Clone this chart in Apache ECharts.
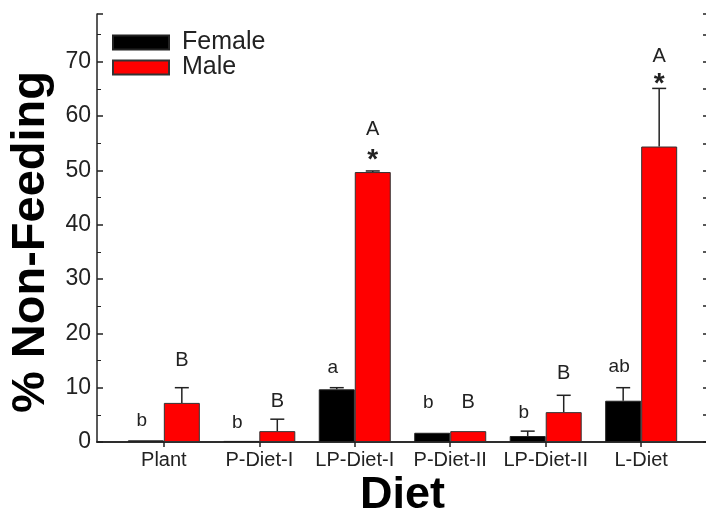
<!DOCTYPE html>
<html>
<head>
<meta charset="utf-8">
<script src="https://cdn.jsdelivr.net/npm/echarts@6/dist/echarts.min.js"></script>
<style>
  html, body { margin: 0; padding: 0; background: #fff; }
  #chart { width: 706px; height: 510px; }
</style>
</head>
<body>
<div id="chart"></div>
<script>
const categories = ['Plant', 'P-Diet-I', 'LP-Diet-I', 'P-Diet-II', 'LP-Diet-II', 'L-Diet']
const femaleMean = [0.3, 0.2, 9.7, 1.7, 1.1, 7.6]
const femaleErr = [0, 0, 0.3, 0, 0.9, 2.4]
const maleMean = [7.2, 2.0, 49.7, 2.0, 5.5, 54.4]
const maleErr = [2.8, 2.2, 0.2, 0, 3.1, 10.7]
const femaleLetters = ['b', 'b', 'a', 'b', 'b', 'ab']
const femaleLetterY = [3.9, 3.5, 13.6, 7.2, 5.3, 13.8]
const maleLetters = ['B', 'B', 'A', 'B', 'B', 'A']
const maleLetterY = [15.1, 7.4, 57.6, 7.2, 12.7, 70.9]
const maleStarY = [null, null, 53.2, null, null, 67.2]

const font = '"Liberation Sans", Arial, sans-serif'
const ink = '#222'
const barW = 36

const positions = categories.map((_, i) => i + 1)

const chart = echarts.init(document.getElementById('chart'))

const errorSeries = (name, means, errs, dx) => ({
  type: 'custom',
  name,
  silent: true,
  z: 5,
  data: positions.map((x, i) => [x, means[i], errs[i]]),
  renderItem: (params, api) => {
    const e = api.value(2)
    if (!e) return null
    const x = api.value(0)
    const m = api.value(1)
    const base = api.coord([x, m])
    const top = api.coord([x, m + e])
    const cx = base[0] + dx
    const style = { stroke: ink, lineWidth: 1.5 }
    return {
      type: 'group',
      children: [
        { type: 'line', shape: { x1: cx, y1: base[1], x2: cx, y2: top[1] }, style },
        { type: 'line', shape: { x1: cx - 7, y1: top[1], x2: cx + 7, y2: top[1] }, style }
      ]
    }
  }
})

const letterSeries = (name, ys, texts, dx, dy, size, weight) => ({
  type: 'custom',
  name,
  silent: true,
  z: 6,
  data: positions.map((x, i) => [x, ys[i], i]).filter((d) => d[1] != null),
  renderItem: (params, api) => {
    const p = api.coord([api.value(0), api.value(1)])
    return {
      type: 'text',
      x: p[0] + dx,
      y: p[1] + dy,
      style: {
        text: texts[api.value(2)],
        fontFamily: font,
        fontSize: size,
        fontWeight: weight,
        fill: ink,
        align: 'center',
        verticalAlign: 'middle'
      }
    }
  }
})

chart.setOption({
  animation: false,
  grid: { left: 97, right: -2, top: 14, bottom: 68, outerBoundsMode: 'none', containLabel: false },
  legend: {
    data: ['Female', 'Male'],
    orient: 'vertical',
    left: 112,
    top: 23,
    padding: 0,
    itemWidth: 56,
    itemHeight: 14,
    itemGap: -14,
    icon: 'rect',
    textStyle: { fontFamily: font, fontSize: 25, lineHeight: 25, color: ink, padding: [0, 0, 14, 8] }
  },
  xAxis: [
    {
      type: 'value',
      min: 0.3,
      max: 6.7,
      name: 'Diet',
      nameLocation: 'middle',
      nameGap: 31,
      nameMoveOverlap: false,
      nameTextStyle: { fontFamily: font, fontSize: 45, fontWeight: 'bold', color: '#000' },
      axisLine: { show: true, onZero: false, lineStyle: { color: ink, width: 1.5 } },
      axisTick: { show: true, customValues: positions, length: 5, lineStyle: { color: ink, width: 1.5 } },
      axisLabel: {
        customValues: positions,
        formatter: (v) => categories[Math.round(v) - 1],
        fontFamily: font,
        fontSize: 20,
        color: ink,
        margin: 8
      },
      splitLine: { show: false }
    },
    {
      type: 'value',
      position: 'top',
      min: 0.3,
      max: 6.7,
      axisLine: { show: true, lineStyle: { color: ink, width: 1.5 } },
      axisTick: { show: false },
      axisLabel: { show: false },
      splitLine: { show: false }
    }
  ],
  yAxis: [
    {
      type: 'value',
      min: 0,
      max: 78.8,
      interval: 10,
      name: '% Non-Feeding',
      nameLocation: 'middle',
      nameGap: 42,
      nameMoveOverlap: false,
      nameTextStyle: { fontFamily: font, fontSize: 47, fontWeight: 'bold', color: '#000', padding: [0, 28, 0, 0] },
      axisLine: { show: true, lineStyle: { color: ink, width: 1.5 } },
      axisTick: { show: true, inside: true, length: 6, lineStyle: { color: ink, width: 1.5 } },
      minorTick: { show: true, splitNumber: 2, length: 4, lineStyle: { color: ink, width: 1 } },
      axisLabel: {
        fontFamily: font,
        fontSize: 23,
        color: ink,
        margin: 6,
        formatter: (v) => (v % 10 === 0 ? String(v) : '')
      },
      splitLine: { show: false }
    },
    {
      type: 'value',
      position: 'right',
      min: 0,
      max: 78.8,
      interval: 5,
      axisLine: { show: true, lineStyle: { color: ink, width: 1.5 } },
      axisTick: { show: true, inside: true, length: 5, lineStyle: { color: ink, width: 1.5 } },
      axisLabel: { show: false },
      splitLine: { show: false }
    }
  ],
  series: [
    {
      name: 'Female',
      type: 'bar',
      barWidth: barW,
      barGap: '0%',
      data: positions.map((x, i) => [x, femaleMean[i]]),
      itemStyle: { color: '#000', borderColor: '#222', borderWidth: 1 }
    },
    {
      name: 'Male',
      type: 'bar',
      barWidth: barW,
      barGap: '0%',
      data: positions.map((x, i) => [x, maleMean[i]]),
      itemStyle: { color: '#ff0000', borderColor: '#333', borderWidth: 1 }
    },
    errorSeries('femaleErr', femaleMean, femaleErr, -barW / 2),
    errorSeries('maleErr', maleMean, maleErr, barW / 2),
    letterSeries('femaleLetters', femaleLetterY, femaleLetters, -barW / 2 - 4, 0, 19, 'normal'),
    letterSeries('maleLetters', maleLetterY, maleLetters, barW / 2, 0, 20, 'normal'),
    letterSeries('maleStars', maleStarY, maleLetters.map(() => '*'), barW / 2, 7, 28, 'bold')
  ]
})
</script>
</body>
</html>
